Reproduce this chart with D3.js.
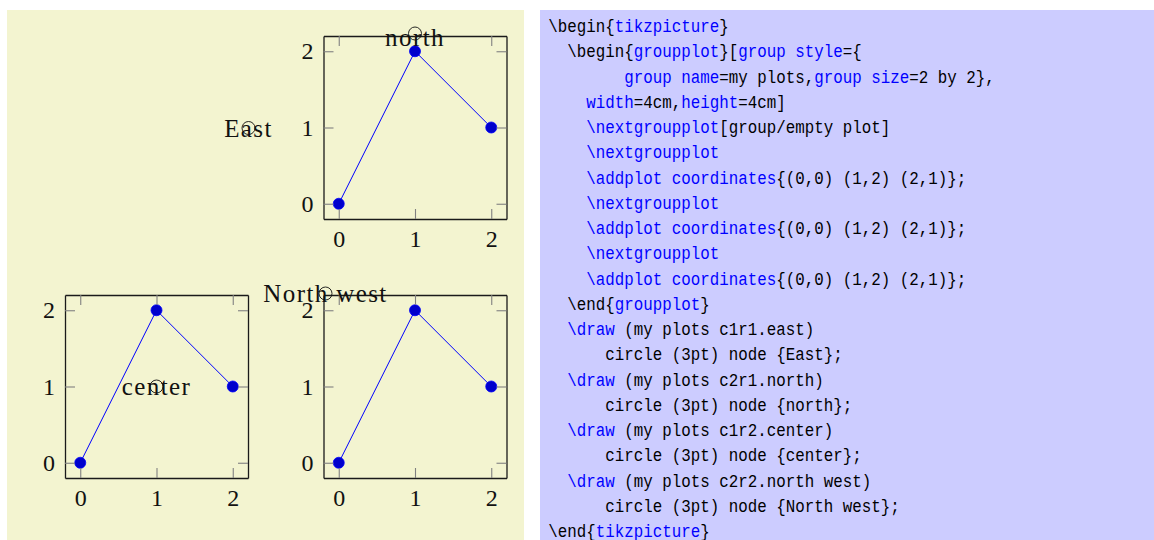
<!DOCTYPE html>
<html>
<head>
<meta charset="utf-8">
<script src="https://cdn.jsdelivr.net/npm/d3@7"></script>
<style>
  html, body { margin: 0; padding: 0; background: #ffffff; }
  svg { display: block; }
</style>
</head>
<body>
<svg id="chart" width="1154" height="540"></svg>
<script>
// ---------------- data ----------------
const xValues = [0, 1, 2];
const yValues = [0, 2, 1];
const xTicks = [0, 1, 2];
const yTicks = [0, 1, 2];
const xDomain = [-0.2, 2.2];
const yDomain = [-0.2, 2.2];

// group plots: column, row, whether it holds data
const plotNames = ["c1r1", "c2r1", "c1r2", "c2r2"];
const plotHasData = [false, true, true, true];

// annotations: which plot, which anchor, label
const annPlots = ["c1r1", "c2r1", "c1r2", "c2r2"];
const annAnchors = ["east", "north", "center", "north west"];
const annLabels = ["East", "north", "center", "North west"];

// code listing: each line is a list of [text, isKeyword]
const codeLines = [
  [["\\begin{", 0], ["tikzpicture", 1], ["}", 0]],
  [["  \\begin{", 0], ["groupplot", 1], ["}[", 0], ["group style", 1], ["={", 0]],
  [["        ", 0], ["group name", 1], ["=my plots,", 0], ["group size", 1], ["=2 by 2},", 0]],
  [["    ", 0], ["width", 1], ["=4cm,", 0], ["height", 1], ["=4cm]", 0]],
  [["    ", 0], ["\\nextgroupplot", 1], ["[group/empty plot]", 0]],
  [["    ", 0], ["\\nextgroupplot", 1]],
  [["    ", 0], ["\\addplot coordinates", 1], ["{(0,0) (1,2) (2,1)};", 0]],
  [["    ", 0], ["\\nextgroupplot", 1]],
  [["    ", 0], ["\\addplot coordinates", 1], ["{(0,0) (1,2) (2,1)};", 0]],
  [["    ", 0], ["\\nextgroupplot", 1]],
  [["    ", 0], ["\\addplot coordinates", 1], ["{(0,0) (1,2) (2,1)};", 0]],
  [["  \\end{", 0], ["groupplot", 1], ["}", 0]],
  [["  ", 0], ["\\draw", 1], [" (my plots c1r1.east)", 0]],
  [["      circle (3pt) node {East};", 0]],
  [["  ", 0], ["\\draw", 1], [" (my plots c2r1.north)", 0]],
  [["      circle (3pt) node {north};", 0]],
  [["  ", 0], ["\\draw", 1], [" (my plots c1r2.center)", 0]],
  [["      circle (3pt) node {center};", 0]],
  [["  ", 0], ["\\draw", 1], [" (my plots c2r2.north west)", 0]],
  [["      circle (3pt) node {North west};", 0]],
  [["\\end{", 0], ["tikzpicture", 1], ["}", 0]]
];

// ---------------- layout / style ----------------
const svg = d3.select("#chart");
const serif = "'Liberation Serif', 'Times New Roman', serif";
const mono = "'Liberation Mono', 'DejaVu Sans Mono', monospace";
const yellowBg = "#f3f4d0";
const blueBg = "#ccccff";
const lineBlue = "#0000ff";
const markFill = "#0000cc";

svg.append("rect").attr("x", 7).attr("y", 10).attr("width", 517).attr("height", 530).attr("fill", yellowBg);
svg.append("rect").attr("x", 540).attr("y", 10).attr("width", 614).attr("height", 530).attr("fill", blueBg);

const boxW = 183, boxH = 183;
const colX = [65, 323.5];
const rowY = [36, 295];
const boxes = {};
plotNames.forEach((name, i) => {
  const c = +name[1] - 1, r = +name[3] - 1;
  boxes[name] = { x0: colX[c], y0: rowY[r], w: boxW, h: boxH };
});

const pts = xValues.map((x, i) => ({ x: x, y: yValues[i] }));

plotNames.forEach((name, i) => {
  if (!plotHasData[i]) return;
  const b = boxes[name];
  const x = d3.scaleLinear().domain(xDomain).range([0, b.w]);
  const y = d3.scaleLinear().domain(yDomain).range([b.h, 0]);
  const g = svg.append("g").attr("transform", `translate(${b.x0},${b.y0})`);

  // plot line + markers
  const line = d3.line().x(d => x(d.x)).y(d => y(d.y));
  g.append("path").datum(pts).attr("d", line)
    .attr("fill", "none").attr("stroke", lineBlue).attr("stroke-width", 1);
  g.selectAll("circle.mark").data(pts).join("circle").attr("class", "mark")
    .attr("cx", d => x(d.x)).attr("cy", d => y(d.y)).attr("r", 5.5)
    .attr("fill", markFill).attr("stroke", lineBlue).attr("stroke-width", 0.8);

  const styleAxis = (sel, showLabels) => {
    sel.select(".domain").attr("stroke", "#1a1a1a").attr("stroke-width", 1.3);
    sel.selectAll(".tick line").attr("stroke", "#808080").attr("stroke-width", 1.1);
    sel.selectAll(".tick text").attr("font-family", serif).attr("font-size", 24).attr("fill", "#111");
    if (!showLabels) sel.selectAll(".tick text").remove();
  };

  const ab = g.append("g").attr("transform", `translate(0,${b.h})`)
    .call(d3.axisBottom(x).tickValues(xTicks).tickSizeInner(-10).tickSizeOuter(0).tickPadding(10.5).tickFormat(d3.format("d")));
  styleAxis(ab, true);
  const at = g.append("g")
    .call(d3.axisTop(x).tickValues(xTicks).tickSizeInner(-10).tickSizeOuter(0));
  styleAxis(at, false);
  const al = g.append("g")
    .call(d3.axisLeft(y).tickValues(yTicks).tickSizeInner(-10).tickSizeOuter(0).tickPadding(10).tickFormat(d3.format("d")));
  styleAxis(al, true);
  const ar = g.append("g").attr("transform", `translate(${b.w},0)`)
    .call(d3.axisRight(y).tickValues(yTicks).tickSizeInner(-10).tickSizeOuter(0));
  styleAxis(ar, false);
});

// ---------------- annotations ----------------
function anchorPoint(b, a) {
  switch (a) {
    case "east": return [b.x0 + b.w + 0.5, b.y0 + b.h / 2 + 0.5, 8.5];
    case "north": return [b.x0 + b.w / 2, b.y0 - 2.5, 12];
    case "center": return [b.x0 + b.w / 2, b.y0 + b.h / 2, 8];
    case "north west": return [b.x0 + 2, b.y0 - 1.5, 8];
  }
}
annPlots.forEach((p, i) => {
  const [cx, cy, dy] = anchorPoint(boxes[p], annAnchors[i]);
  svg.append("circle").attr("cx", cx).attr("cy", cy).attr("r", 6.5)
    .attr("fill", "none").attr("stroke", "#111").attr("stroke-width", 0.9);
  svg.append("text").attr("x", cx).attr("y", cy + dy)
    .attr("text-anchor", "middle").attr("font-family", serif).attr("font-size", 25)
    .attr("letter-spacing", "1.4px").attr("fill", "#111").text(annLabels[i]);
});

// ---------------- code listing ----------------
const codeX0 = 548.3, charW = 9.5, lineH = 25.25, base0 = 32;
const codeG = svg.append("g");
codeLines.forEach((segs, li) => {
  const full = segs.map(s => s[0]).join("");
  const lead = full.length - full.replace(/^ +/, "").length;
  const bodyLen = full.length - lead;
  const t = codeG.append("text")
    .attr("x", codeX0 + lead * charW)
    .attr("y", base0 + li * lineH)
    .attr("font-family", mono).attr("font-size", 17.5)
    .attr("textLength", bodyLen * charW)
    .attr("lengthAdjust", "spacingAndGlyphs")
    .attr("xml:space", "preserve");
  let col = 0;
  segs.forEach(([txt, kw]) => {
    let s = txt;
    if (col < lead) { s = txt.slice(Math.min(txt.length, lead - col)); }
    if (s.length) {
      t.append("tspan").attr("fill", kw ? "#0000ff" : "#000").text(s);
    }
    col += txt.length;
  });
});
</script>
</body>
</html>
